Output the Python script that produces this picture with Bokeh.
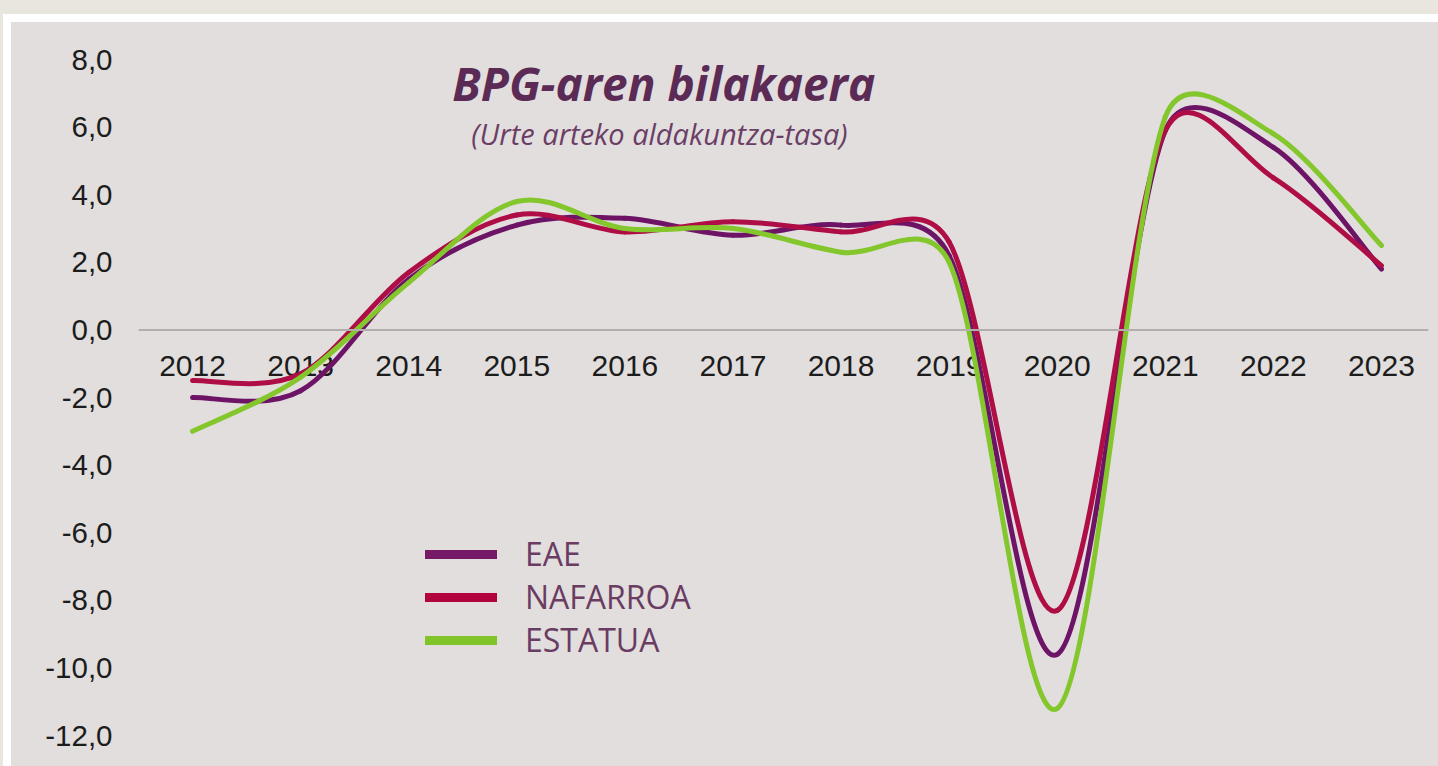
from bokeh.plotting import figure
from bokeh.models import Span, Label, Legend, LegendItem, FixedTicker, Div, Spacer
from bokeh.layouts import column, row
from bokeh.core.properties import value
from bokeh.embed import file_html
from bokeh.resources import INLINE
import math

# ---------------- data ----------------
years = [2012, 2013, 2014, 2015, 2016, 2017, 2018, 2019, 2020, 2021, 2022, 2023]
year_labels = [str(y) for y in years]
eae = [-2.0, -1.8, 1.5, 3.1, 3.3, 2.8, 3.1, 2.2, -9.6, 5.9, 5.4, 1.8]
nafarroa = [-1.5, -1.3, 1.7, 3.4, 2.9, 3.2, 2.9, 2.6, -8.3, 5.9, 4.5, 1.9]
estatua = [-3.0, -1.4, 1.4, 3.8, 3.0, 3.0, 2.3, 2.0, -11.2, 6.3, 5.8, 2.5]
series_names = ["EAE", "NAFARROA", "ESTATUA"]
y_ticks = [-12, -10, -8, -6, -4, -2, 0, 2, 4, 6, 8]
y_tick_labels = ["-12,0", "-10,0", "-8,0", "-6,0", "-4,0", "-2,0", "0,0", "2,0", "4,0", "6,0", "8,0"]
title_text = "BPG-aren bilakaera"
subtitle_text = "(Urte arteko aldakuntza-tasa)"

# ---------------- style ----------------
PANEL = "#e1dedd"
BEIGE = "#e9e6e0"
COLORS = ["#6d1466", "#ae0d45", "#84c72c"]
LEGEND_COLORS = ["#761a68", "#b3033f", "#80c42a"]
TITLE_COLOR = "#5b2b55"
SUB_COLOR = "#6b3e66"
TEXT_DARK = "#1c1c1c"

W, H = 1427, 744
ML, MR, MT, MB = 127, 10, 37, 31
X0, X1 = 2011.5, 2023.435
Y0, Y1 = -12, 8

p = figure(width=W, height=H, x_range=(X0, X1), y_range=(Y0, Y1),
           output_backend="svg", toolbar_location=None, x_axis_location=None,
           min_border_left=ML, min_border_right=MR, min_border_top=MT, min_border_bottom=MB,
           background_fill_color=PANEL, background_fill_alpha=0,
           border_fill_color=PANEL, outline_line_color=None,
           styles={"background-color": PANEL})
p.xgrid.visible = False
p.ygrid.visible = False

ax = p.yaxis[0]
ax.ticker = FixedTicker(ticks=y_ticks)
ax.major_label_overrides = dict(zip(y_ticks, y_tick_labels))
ax.axis_line_color = None
ax.major_tick_line_color = None
ax.minor_tick_line_color = None
ax.major_tick_out = 0
ax.major_tick_in = 0
ax.major_label_standoff = 26
ax.major_label_text_font = "Liberation Sans"
ax.major_label_text_font_size = "29.5px"
ax.major_label_text_color = TEXT_DARK

p.add_layout(Span(location=0, dimension="width", line_color="#b1aeac", line_width=2))

# category labels next to the zero line
p.text(x=years, y=[0] * len(years), text=year_labels, text_align="center",
       text_baseline="middle", y_offset=36, text_font=value("Liberation Sans"),
       text_font_size="30px", text_color=TEXT_DARK)

# pixel scales (smoothing is done in screen proportions, like a spreadsheet "smoothed line")
sx = (W - ML - MR) / (X1 - X0)
sy = (H - MT - MB) / (Y1 - Y0)


def smooth_segments(xs, ys):
    n = len(xs)
    P = [(x * sx, y * sy) for x, y in zip(xs, ys)]
    T = []
    for i in range(n):
        a = P[max(i - 1, 0)]
        b = P[min(i + 1, n - 1)]
        T.append(((b[0] - a[0]) / 6.0, (b[1] - a[1]) / 6.0))

    def scaled(t, seg_len):
        ln = math.hypot(t[0], t[1])
        s = 1.0 if ln == 0 else min(1.0, 0.5 * seg_len / ln)
        return (t[0] * s, t[1] * s)

    out = {k: [] for k in ("x0", "y0", "x1", "y1", "cx0", "cy0", "cx1", "cy1")}
    for i in range(n - 1):
        seg_len = math.hypot(P[i + 1][0] - P[i][0], P[i + 1][1] - P[i][1])
        t0 = scaled(T[i], seg_len)
        t1 = scaled(T[i + 1], seg_len)
        out["x0"].append(xs[i]); out["y0"].append(ys[i])
        out["x1"].append(xs[i + 1]); out["y1"].append(ys[i + 1])
        out["cx0"].append(xs[i] + t0[0] / sx)
        out["cy0"].append(ys[i] + t0[1] / sy)
        out["cx1"].append(xs[i + 1] - t1[0] / sx)
        out["cy1"].append(ys[i + 1] - t1[1] / sy)
    return out


legend_items = []
for name, vals, col, lcol in zip(series_names, [eae, nafarroa, estatua], COLORS, LEGEND_COLORS):
    seg = smooth_segments(years, vals)
    p.bezier(x0=seg["x0"], y0=seg["y0"], x1=seg["x1"], y1=seg["y1"],
             cx0=seg["cx0"], cy0=seg["cy0"], cx1=seg["cx1"], cy1=seg["cy1"],
             line_color=col, line_width=5, line_cap="round")
    # legend-only renderer (thicker key line); NaN values draw nothing in the plot
    key = p.line(x=[years[0], years[0]], y=[float("nan"), float("nan")],
                 line_color=lcol, line_width=9, line_cap="round")
    legend_items.append(LegendItem(label=name, renderers=[key]))

legend = Legend(items=legend_items, location=(287, 74), orientation="vertical",
                glyph_width=72, glyph_height=22, label_height=22, spacing=0,
                padding=0, margin=0, label_standoff=28,
                border_line_color=None, background_fill_alpha=0,
                label_text_font="Open Sans", label_text_font_size="32px",
                label_text_color="#6a3c62")
p.add_layout(legend)

p.add_layout(Label(x=2016.36, y=7.3, text=title_text, text_align="center",
                   text_baseline="alphabetic", text_font="Open Sans",
                   text_font_style="bold italic", text_font_size="46px",
                   text_color=TITLE_COLOR))
p.add_layout(Label(x=2016.32, y=5.8, text=subtitle_text, text_align="center",
                   text_baseline="alphabetic", text_font="Open Sans",
                   text_font_style="italic", text_font_size="29px",
                   text_color=SUB_COLOR))

top_strip = Div(width=1438, height=14, margin=0, styles={"background-color": BEIGE})
left_strip = Div(width=3, height=H + 8, margin=0, styles={"background-color": BEIGE})
layout = column(
    top_strip,
    row(left_strip, Spacer(width=8, height=H + 8, margin=0),
        column(Spacer(width=W, height=8, margin=0), p)),
)

open("out.html", "w").write(file_html(layout, INLINE))
